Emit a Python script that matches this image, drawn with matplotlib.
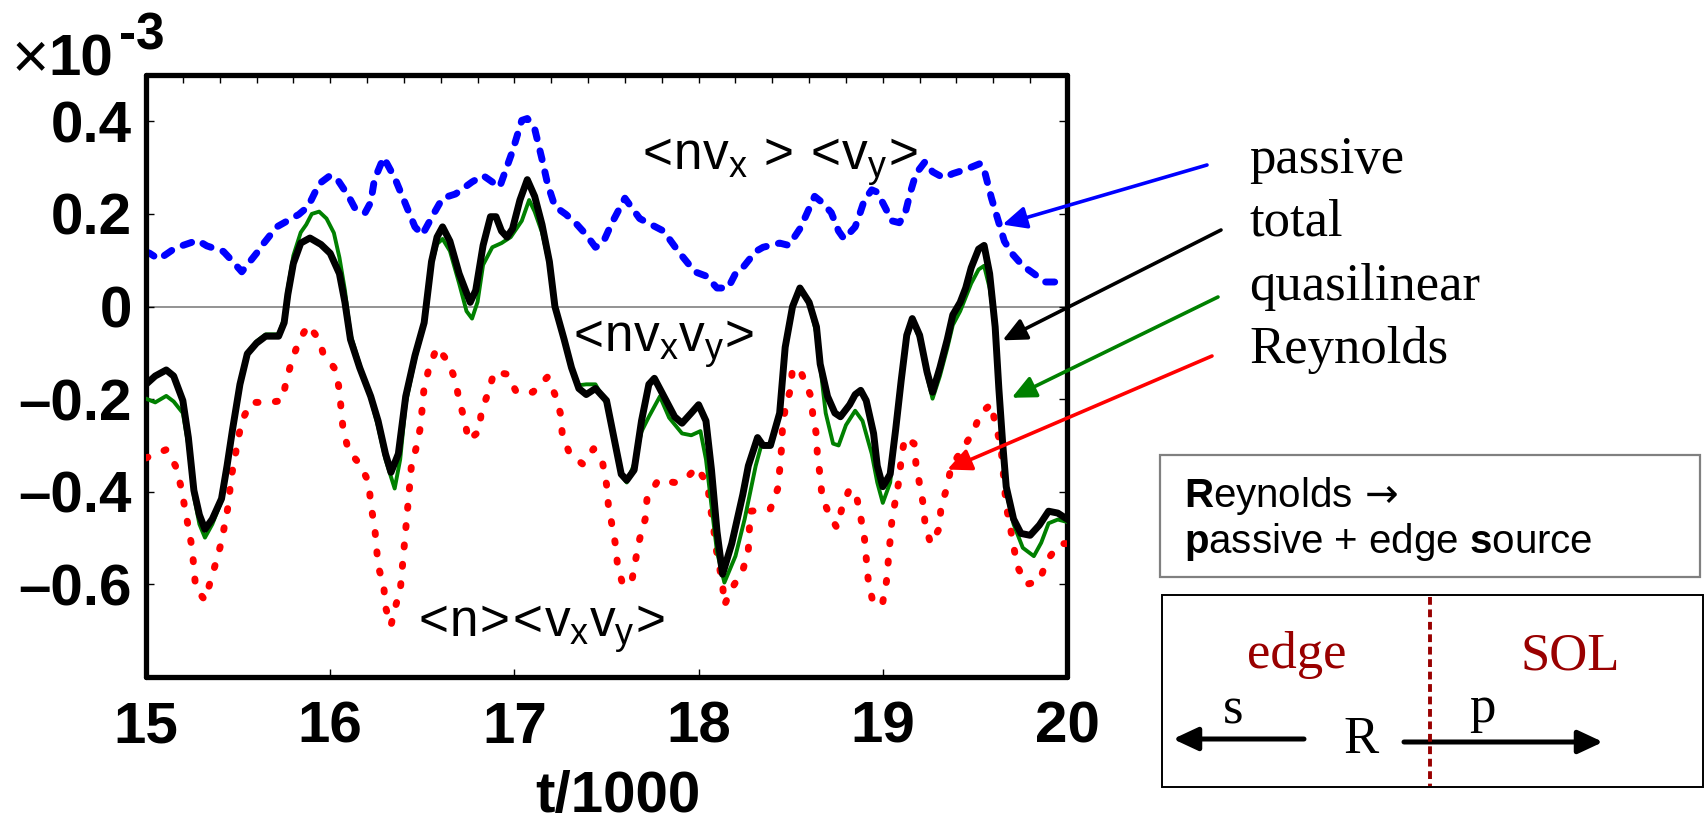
import matplotlib
matplotlib.use('Agg')
import matplotlib.pyplot as plt
from matplotlib.patches import Rectangle, FancyArrowPatch
from matplotlib.lines import Line2D
from matplotlib.ticker import MultipleLocator

W, H = 1706, 824

plt.rcParams['font.family'] = ['Liberation Sans Narrow', 'Liberation Sans']
plt.rcParams['mathtext.fontset'] = 'custom'
plt.rcParams['mathtext.rm'] = 'Liberation Sans'
plt.rcParams['mathtext.it'] = 'Liberation Sans'
plt.rcParams['mathtext.bf'] = 'Liberation Sans:bold'

# time axis in units of 1000, fluxes in units of 1e-3
t_total = [15.00, 15.05, 15.11, 15.15, 15.20, 15.23, 15.26, 15.29, 15.32, 15.36, 15.41, 15.44,
           15.47, 15.51, 15.55, 15.60, 15.65, 15.72, 15.75, 15.77, 15.80, 15.84, 15.89, 15.95,
           16.00, 16.05, 16.08, 16.11, 16.16, 16.22, 16.26, 16.30, 16.33, 16.37, 16.41, 16.46,
           16.51, 16.55, 16.58, 16.61, 16.65, 16.70, 16.76, 16.79, 16.83, 16.87, 16.90, 16.93,
           16.96, 16.99, 17.03, 17.07, 17.11, 17.15, 17.19, 17.22, 17.27, 17.31, 17.35, 17.39,
           17.44, 17.50, 17.54, 17.58, 17.61, 17.65, 17.69, 17.73, 17.76, 17.80, 17.87, 17.91,
           17.96, 18.00, 18.04, 18.07, 18.10, 18.13, 18.18, 18.24, 18.27, 18.32, 18.35, 18.39,
           18.44, 18.47, 18.51, 18.55, 18.60, 18.64, 18.66, 18.70, 18.74, 18.77, 18.82, 18.85,
           18.88, 18.91, 18.95, 18.97, 19.00, 19.04, 19.07, 19.10, 19.13, 19.16, 19.20, 19.24,
           19.27, 19.31, 19.35, 19.38, 19.42, 19.45, 19.48, 19.52, 19.55, 19.58, 19.61, 19.63,
           19.65, 19.67, 19.71, 19.75, 19.80, 19.85, 19.90, 19.95, 20.00]
total = [-0.168, -0.150, -0.137, -0.150, -0.203, -0.283, -0.397, -0.450, -0.481, -0.459, -0.415, -0.344,
         -0.265, -0.168, -0.102, -0.079, -0.064, -0.064, -0.035, 0.026, 0.093, 0.137, 0.148, 0.134,
         0.115, 0.071, 0.009, -0.071, -0.132, -0.194, -0.247, -0.318, -0.358, -0.318, -0.194, -0.106,
         -0.035, 0.097, 0.150, 0.172, 0.141, 0.071, 0.009, 0.035, 0.132, 0.194, 0.194, 0.163,
         0.150, 0.168, 0.230, 0.274, 0.238, 0.177, 0.097, 0.000, -0.071, -0.132, -0.177, -0.190,
         -0.177, -0.203, -0.283, -0.362, -0.375, -0.353, -0.247, -0.168, -0.155, -0.185, -0.238, -0.252,
         -0.230, -0.212, -0.247, -0.353, -0.486, -0.578, -0.512, -0.406, -0.344, -0.283, -0.300, -0.300,
         -0.230, -0.088, 0.000, 0.040, 0.009, -0.044, -0.124, -0.194, -0.230, -0.238, -0.212, -0.190,
         -0.181, -0.203, -0.274, -0.344, -0.389, -0.362, -0.265, -0.159, -0.062, -0.026, -0.062, -0.141,
         -0.185, -0.132, -0.071, -0.018, 0.009, 0.040, 0.084, 0.124, 0.132, 0.071, -0.044, -0.177,
         -0.291, -0.389, -0.459, -0.490, -0.494, -0.472, -0.442, -0.446, -0.459]

t_ql = [15.00, 15.05, 15.11, 15.15, 15.20, 15.23, 15.26, 15.29, 15.32, 15.36, 15.41, 15.44,
        15.47, 15.51, 15.55, 15.60, 15.65, 15.72, 15.75, 15.77, 15.80, 15.84, 15.87, 15.90,
        15.94, 15.98, 16.02, 16.05, 16.08, 16.11, 16.16, 16.22, 16.26, 16.30, 16.35, 16.38,
        16.41, 16.46, 16.51, 16.55, 16.58, 16.61, 16.65, 16.70, 16.74, 16.77, 16.80, 16.83,
        16.88, 16.93, 16.98, 17.04, 17.08, 17.11, 17.15, 17.19, 17.22, 17.27, 17.31, 17.35,
        17.39, 17.44, 17.50, 17.54, 17.58, 17.61, 17.65, 17.69, 17.73, 17.79, 17.84, 17.91,
        17.96, 18.01, 18.04, 18.10, 18.14, 18.20, 18.25, 18.31, 18.34, 18.39, 18.44, 18.47,
        18.51, 18.55, 18.60, 18.64, 18.69, 18.73, 18.76, 18.80, 18.85, 18.89, 18.94, 18.97,
        19.00, 19.04, 19.07, 19.10, 19.13, 19.16, 19.20, 19.24, 19.27, 19.31, 19.35, 19.38,
        19.42, 19.45, 19.48, 19.52, 19.55, 19.58, 19.61, 19.63, 19.65, 19.67, 19.71, 19.76,
        19.82, 19.86, 19.90, 19.95, 20.00]
quasilinear = [-0.199, -0.207, -0.193, -0.205, -0.230, -0.300, -0.410, -0.470, -0.499, -0.470, -0.420, -0.350,
               -0.265, -0.165, -0.100, -0.075, -0.060, -0.060, -0.025, 0.040, 0.110, 0.160, 0.177, 0.200,
               0.205, 0.190, 0.159, 0.106, 0.035, -0.060, -0.125, -0.200, -0.260, -0.330, -0.393, -0.330,
               -0.210, -0.115, -0.040, 0.090, 0.135, 0.146, 0.120, 0.050, -0.010, -0.026, 0.010, 0.090,
               0.128, 0.137, 0.150, 0.185, 0.230, 0.205, 0.160, 0.090, 0.000, -0.070, -0.130, -0.170,
               -0.168, -0.168, -0.210, -0.290, -0.365, -0.380, -0.340, -0.270, -0.238, -0.194, -0.240, -0.274,
               -0.278, -0.269, -0.330, -0.530, -0.596, -0.539, -0.459, -0.344, -0.300, -0.300, -0.230, -0.088,
               0.000, 0.040, 0.009, -0.060, -0.230, -0.296, -0.300, -0.256, -0.225, -0.247, -0.318, -0.380,
               -0.424, -0.380, -0.270, -0.165, -0.070, -0.030, -0.070, -0.150, -0.199, -0.150, -0.090, -0.040,
               -0.010, 0.020, 0.050, 0.080, 0.088, 0.040, -0.044, -0.177, -0.300, -0.400, -0.470, -0.521,
               -0.539, -0.510, -0.468, -0.460, -0.465]

t_rey = [15.00, 15.11, 15.16, 15.19, 15.21, 15.23, 15.25, 15.26, 15.27, 15.32, 15.35, 15.38,
         15.41, 15.43, 15.45, 15.46, 15.48, 15.50, 15.52, 15.57, 15.67, 15.74, 15.76, 15.79,
         15.83, 15.88, 15.94, 15.96, 16.03, 16.05, 16.06, 16.07, 16.10, 16.16, 16.21, 16.22,
         16.24, 16.25, 16.26, 16.29, 16.30, 16.33, 16.35, 16.38, 16.39, 16.40, 16.41, 16.42,
         16.43, 16.44, 16.47, 16.49, 16.50, 16.51, 16.54, 16.58, 16.64, 16.68, 16.70, 16.73,
         16.75, 16.81, 16.82, 16.86, 16.89, 16.96, 17.01, 17.10, 17.18, 17.22, 17.25, 17.26,
         17.30, 17.37, 17.43, 17.48, 17.50, 17.51, 17.53, 17.55, 17.56, 17.59, 17.64, 17.66,
         17.68, 17.71, 17.72, 17.78, 17.87, 17.95, 17.99, 18.05, 18.06, 18.08, 18.09, 18.11,
         18.13, 18.14, 18.18, 18.24, 18.27, 18.275, 18.28, 18.33, 18.39, 18.43, 18.44, 18.45,
         18.455, 18.47, 18.50, 18.51, 18.56, 18.61, 18.62, 18.64, 18.645, 18.66, 18.67, 18.71,
         18.75, 18.78, 18.82, 18.86, 18.88, 18.90, 18.91, 18.92, 18.94, 18.95, 19.00, 19.02,
         19.03, 19.04, 19.05, 19.07, 19.09, 19.10, 19.12, 19.17, 19.18, 19.20, 19.22, 19.23,
         19.26, 19.31, 19.315, 19.35, 19.37, 19.43, 19.49, 19.53, 19.59, 19.61, 19.64, 19.65,
         19.66, 19.67, 19.69, 19.71, 19.73, 19.78, 19.85, 19.89, 19.96, 20.00]
reynolds = [-0.327, -0.309, -0.344, -0.389, -0.433, -0.477, -0.521, -0.565, -0.609, -0.634, -0.593, -0.552,
            -0.508, -0.465, -0.422, -0.375, -0.331, -0.287, -0.247, -0.207, -0.207, -0.203, -0.163, -0.119,
            -0.075, -0.040, -0.071, -0.099, -0.137, -0.181, -0.225, -0.265, -0.312, -0.340, -0.380, -0.428,
            -0.472, -0.512, -0.561, -0.600, -0.649, -0.689, -0.653, -0.614, -0.570, -0.525, -0.480, -0.437,
            -0.393, -0.347, -0.300, -0.260, -0.217, -0.174, -0.128, -0.088, -0.119, -0.159, -0.203, -0.245,
            -0.289, -0.269, -0.227, -0.184, -0.141, -0.146, -0.184, -0.185, -0.152, -0.190, -0.231, -0.276,
            -0.318, -0.340, -0.307, -0.340, -0.384, -0.428, -0.472, -0.517, -0.559, -0.603, -0.587, -0.543,
            -0.502, -0.459, -0.415, -0.375, -0.380, -0.364, -0.347, -0.384, -0.426, -0.470, -0.512, -0.555,
            -0.600, -0.645, -0.609, -0.570, -0.525, -0.486, -0.442, -0.440, -0.437, -0.393, -0.353, -0.307,
            -0.265, -0.221, -0.177, -0.132, -0.146, -0.194, -0.234, -0.278, -0.322, -0.366, -0.411, -0.450,
            -0.477, -0.433, -0.393, -0.415, -0.455, -0.499, -0.543, -0.587, -0.627, -0.645, -0.638, -0.593,
            -0.549, -0.503, -0.459, -0.415, -0.371, -0.327, -0.283, -0.296, -0.340, -0.384, -0.428, -0.472,
            -0.512, -0.477, -0.433, -0.389, -0.347, -0.309, -0.272, -0.231, -0.210, -0.254, -0.298, -0.340,
            -0.387, -0.431, -0.472, -0.517, -0.561, -0.600, -0.593, -0.549, -0.512, -0.512]

t_pas = [15.00, 15.02, 15.07, 15.15, 15.20, 15.28, 15.33, 15.42, 15.46, 15.52, 15.60, 15.64,
         15.71, 15.75, 15.83, 15.88, 15.94, 16.00, 16.04, 16.10, 16.14, 16.19, 16.22, 16.24,
         16.29, 16.35, 16.40, 16.46, 16.50, 16.56, 16.61, 16.68, 16.77, 16.83, 16.88, 16.92,
         16.99, 17.04, 17.07, 17.11, 17.15, 17.18, 17.22, 17.28, 17.34, 17.39, 17.44, 17.48,
         17.53, 17.60, 17.68, 17.81, 17.89, 17.98, 18.04, 18.10, 18.16, 18.20, 18.24, 18.31,
         18.35, 18.44, 18.49, 18.55, 18.58, 18.63, 18.67, 18.72, 18.76, 18.79, 18.85, 18.87,
         18.90, 18.94, 18.97, 19.01, 19.05, 19.09, 19.12, 19.15, 19.18, 19.23, 19.27, 19.33,
         19.38, 19.45, 19.53, 19.55, 19.59, 19.63, 19.66, 19.70, 19.76, 19.82, 19.88, 19.95, 20.00]
passive = [0.118, 0.115, 0.102, 0.124, 0.132, 0.143, 0.131, 0.119, 0.102, 0.075, 0.115, 0.137,
           0.172, 0.181, 0.199, 0.216, 0.265, 0.283, 0.274, 0.238, 0.208, 0.203, 0.225, 0.274,
           0.322, 0.278, 0.230, 0.172, 0.155, 0.199, 0.234, 0.243, 0.269, 0.283, 0.269, 0.258,
           0.336, 0.402, 0.406, 0.384, 0.318, 0.265, 0.216, 0.199, 0.177, 0.155, 0.128, 0.137,
           0.181, 0.234, 0.190, 0.163, 0.119, 0.075, 0.066, 0.040, 0.040, 0.071, 0.084, 0.119,
           0.128, 0.137, 0.132, 0.168, 0.194, 0.238, 0.225, 0.203, 0.163, 0.146, 0.172, 0.194,
           0.230, 0.252, 0.247, 0.216, 0.185, 0.181, 0.199, 0.247, 0.287, 0.313, 0.291, 0.278,
           0.287, 0.296, 0.309, 0.296, 0.234, 0.181, 0.141, 0.115, 0.088, 0.071, 0.053, 0.053, 0.057]

y_ticks = [-0.6, -0.4, -0.2, 0, 0.2, 0.4]
y_ticklabels = ['\u20130.6', '\u20130.4', '\u20130.2', '0', '0.2', '0.4']
x_ticks = [15, 16, 17, 18, 19, 20]

# legend entries: label, colour, arrow tip (data), line start (figure px from top-left), label baseline
legend_names = ['passive', 'total', 'quasilinear', 'Reynolds']
legend_colors = ['#0000ff', '#000000', '#008000', '#ff0000']
legend_tips = [(19.65, 0.177), (19.65, -0.073), (19.70, -0.197), (19.35, -0.352)]
legend_starts = [(1207, 165), (1221, 230), (1218, 297), (1212, 356)]
legend_baselines = [173, 236, 300, 363]


def fpx(x, y):
    """figure fraction from pixel position measured from the top-left corner"""
    return x / W, 1 - y / H


fig = plt.figure(figsize=(W / 100, H / 100), dpi=100)
ax = fig.add_axes([146 / W, 1 - 677 / H, (1067 - 146) / W, (677 - 75) / H])

ax.axhline(0, color='#808080', lw=1.2, zorder=1)
ax.plot(t_pas, passive, color='#0000ff', lw=5.0, linestyle=(0, (1.3, 1.8)),
        dash_capstyle='round', zorder=2)
ax.plot(t_rey, reynolds, color='#ff0000', lw=5.0, linestyle=(0, (0.3, 2.5)),
        dash_capstyle='round', zorder=3)
ax.plot(t_ql, quasilinear, color='#008000', lw=2.8, zorder=4)
ax.plot(t_total, total, color='black', lw=5.0, zorder=5, solid_joinstyle='round')

ax.set_xlim(15, 20)
ax.set_ylim(-0.8, 0.5)
ax.set_yticks(y_ticks, y_ticklabels)
ax.set_xticks(x_ticks, [str(v) for v in x_ticks])
ax.xaxis.set_minor_locator(MultipleLocator(0.2))
ax.tick_params(axis='both', which='major', direction='in', length=6, width=1,
               labelsize=42, right=True, top=True)
ax.tick_params(axis='x', which='major', pad=17)
ax.tick_params(axis='y', which='major', pad=10)
ax.tick_params(axis='x', which='minor', direction='in', length=6, width=1,
               bottom=False, top=True)
for lab in ax.get_xticklabels() + ax.get_yticklabels():
    lab.set_fontweight('bold')
for sp in ax.spines.values():
    sp.set_linewidth(3.8)
    sp.set_joinstyle('round')
    sp.set_capstyle('round')

ax.set_xlabel('t/1000', fontsize=42, fontweight='bold')
ax.xaxis.set_label_coords((618 - 146) / (1067 - 146), (677 - 770) / (677 - 75))

# exponent of the y axis
fig.text(*fpx(30, 61), '\u00d7', fontsize=46, family='Liberation Sans', ha='center', va='center')
fig.text(*fpx(48, 75), '10', fontsize=42, fontweight='bold', ha='left', va='baseline')
fig.text(*fpx(119, 50), '-3', fontsize=37, fontweight='bold', ha='left', va='baseline')

# curve names inside the axes
ax.text(17.69, 0.296, r'$\!<\!nv_x\,><\!v_y\!>$', fontsize=37, va='baseline', ha='left', zorder=6)
ax.text(17.31, -0.097, r'$\!<\!nv_xv_y\!>$', fontsize=37, va='baseline', ha='left', zorder=6)
ax.text(16.47, -0.713, r'$\!<\!n\!>\!\!<\!v_xv_y\!>$', fontsize=37, va='baseline', ha='left', zorder=6)

# legend labels with pointer arrows
for name, col, tip, start, base in zip(legend_names, legend_colors, legend_tips,
                                       legend_starts, legend_baselines):
    fig.text(*fpx(1249, base), name, fontsize=38, family='Liberation Serif',
             ha='left', va='baseline')
    ax.annotate('', xy=tip, xycoords='data',
                xytext=(start[0], H - start[1]), textcoords='figure pixels',
                arrowprops=dict(arrowstyle='-|>,head_length=0.6,head_width=0.28',
                                color=col, lw=2.6, mutation_scale=24,
                                shrinkA=0, shrinkB=0),
                annotation_clip=False, zorder=7)

# Reynolds decomposition note
fig.add_artist(Rectangle(fpx(1160, 577), (1700 - 1160) / W, (577 - 455) / H,
                         transform=fig.transFigure, fill=False, ec='#808080', lw=1.6))
fig.text(*fpx(1184, 507), r'$\mathbf{R}$eynolds', fontsize=29,
         family='Liberation Sans', ha='left', va='baseline')
fig.text(*fpx(1365, 507), '\u2192', fontsize=29, family='DejaVu Sans',
         ha='left', va='baseline')
fig.text(*fpx(1184, 553), r'$\mathbf{p}$assive + edge $\mathbf{s}$ource', fontsize=29,
         family='Liberation Sans', ha='left', va='baseline')

# edge / SOL sketch
fig.add_artist(Rectangle(fpx(1162, 787), (1703 - 1162) / W, (787 - 595) / H,
                         transform=fig.transFigure, fill=False, ec='black', lw=1.4))
fig.add_artist(Line2D([1430 / W, 1430 / W], [1 - 597 / H, 1 - 786 / H],
                      transform=fig.transFigure, color='#990000', lw=2.8,
                      linestyle=(0, (2.0, 1.2))))
fig.text(*fpx(1297, 668), 'edge', fontsize=38, family='Liberation Serif',
         color='#990000', ha='center', va='baseline')
fig.text(*fpx(1570, 670), 'SOL', fontsize=38, family='Liberation Serif',
         color='#990000', ha='center', va='baseline')
fig.text(*fpx(1233, 723), 's', fontsize=38, family='Liberation Serif', ha='center', va='baseline')
fig.text(*fpx(1361, 753), 'R', fontsize=38, family='Liberation Serif', ha='center', va='baseline')
fig.text(*fpx(1482, 722), 'p', fontsize=38, family='Liberation Serif', ha='center', va='baseline')
for x0, x1, yy in [(1304, 1173, 739), (1404, 1603, 742)]:
    fig.add_artist(FancyArrowPatch((x0, H - yy), (x1, H - yy), transform=None,
                                   arrowstyle='-|>,head_length=0.75,head_width=0.35',
                                   mutation_scale=20, lw=3.6, color='black',
                                   shrinkA=0, shrinkB=0))

fig.savefig('out.png', dpi=100)
